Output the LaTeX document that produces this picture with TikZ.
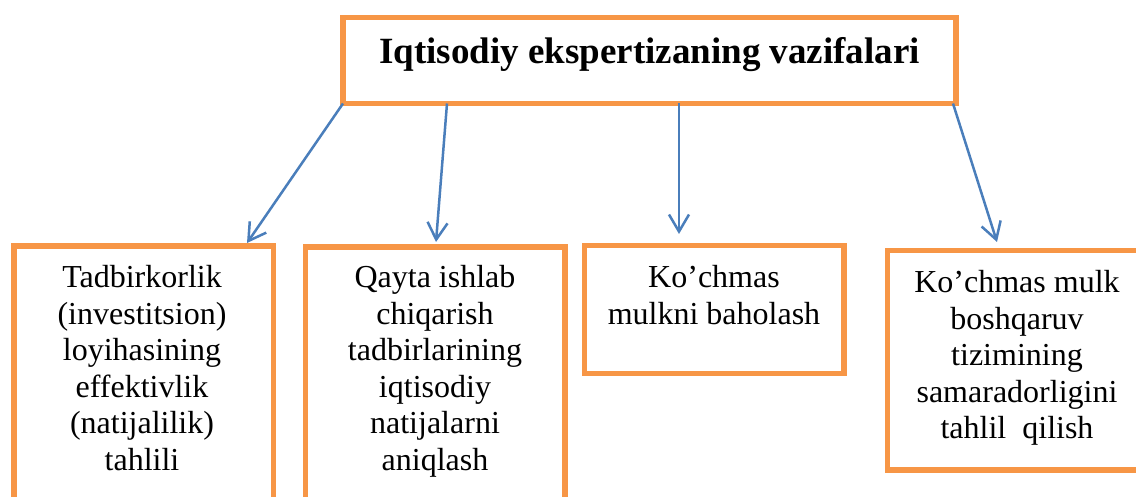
\documentclass[tikz,border=0pt]{standalone}
\usepackage{fontspec}
\setmainfont{Liberation Serif}
\usetikzlibrary{arrows.meta}
\definecolor{boxorange}{HTML}{F79646}
\definecolor{linkblue}{HTML}{4A7EBB}
\tikzset{
  frame/.style={rectangle, draw=boxorange, line width=5.5pt, inner sep=0pt, outer sep=0pt},
  boxtext/.style={anchor=north, align=center, inner sep=0pt, font=\fontsize{32}{36.6}\selectfont},
  headtext/.style={anchor=base, inner sep=0pt, font=\fontsize{37}{42}\selectfont\bfseries},
  link/.style={draw=linkblue, line width=2.5pt, -{Straight Barb[length=17pt,width=20pt]}}
}
\begin{document}
\begin{tikzpicture}[x=1pt,y=-1pt]
\useasboundingbox (0,0) rectangle (1136,497);
\clip (0,0) rectangle (1136,497);

% heading box
\node[frame, minimum width=613pt, minimum height=86pt] (title) at (649.5,60.5) {};
\node[headtext] (ttl) at (649.5,64) {Iqtisodiy ekspertizaning vazifalari};

% task boxes
\node[frame, minimum width=259.5pt, minimum height=274pt] (b1) at (143.75,383) {};
\node[frame, minimum width=259.5pt, minimum height=273pt] (b2) at (435.25,383.5) {};
\node[frame, minimum width=259.5pt, minimum height=128pt] (b3) at (714.25,309.5) {};
\node[frame, minimum width=259pt, minimum height=219.5pt] (b4) at (1017,360.25) {};

\node[boxtext] (t1) at (142,265) {Tadbirkorlik\\(investitsion)\\loyihasining\\effektivlik\\(natijalilik)\\tahlili};
\node[boxtext] (t2) at (435,265) {Qayta ishlab\\chiqarish\\tadbirlarining\\iqtisodiy\\natijalarni\\aniqlash};
\node[boxtext] (t3) at (714,265) {Ko’chmas\\mulkni baholash};
\node[boxtext] (t4) at (1017,270) {Ko’chmas mulk\\boshqaruv\\tizimining\\samaradorligini\\tahlil\ \ qilish};

% connectors
\draw[link] (title.south west) -- ([xshift=-26.5pt,yshift=3pt]b1.north east);
\draw[link] ([xshift=104pt]title.south west) -- ([xshift=0.75pt,yshift=5pt]b2.north);
\draw[link] ([xshift=29.5pt]title.south) -- ([xshift=-35.25pt,yshift=11.5pt]b3.north);
\draw[link] ([xshift=-3pt]title.south east) -- ([xshift=109.5pt,yshift=8.5pt]b4.north west);
\end{tikzpicture}
\end{document}
